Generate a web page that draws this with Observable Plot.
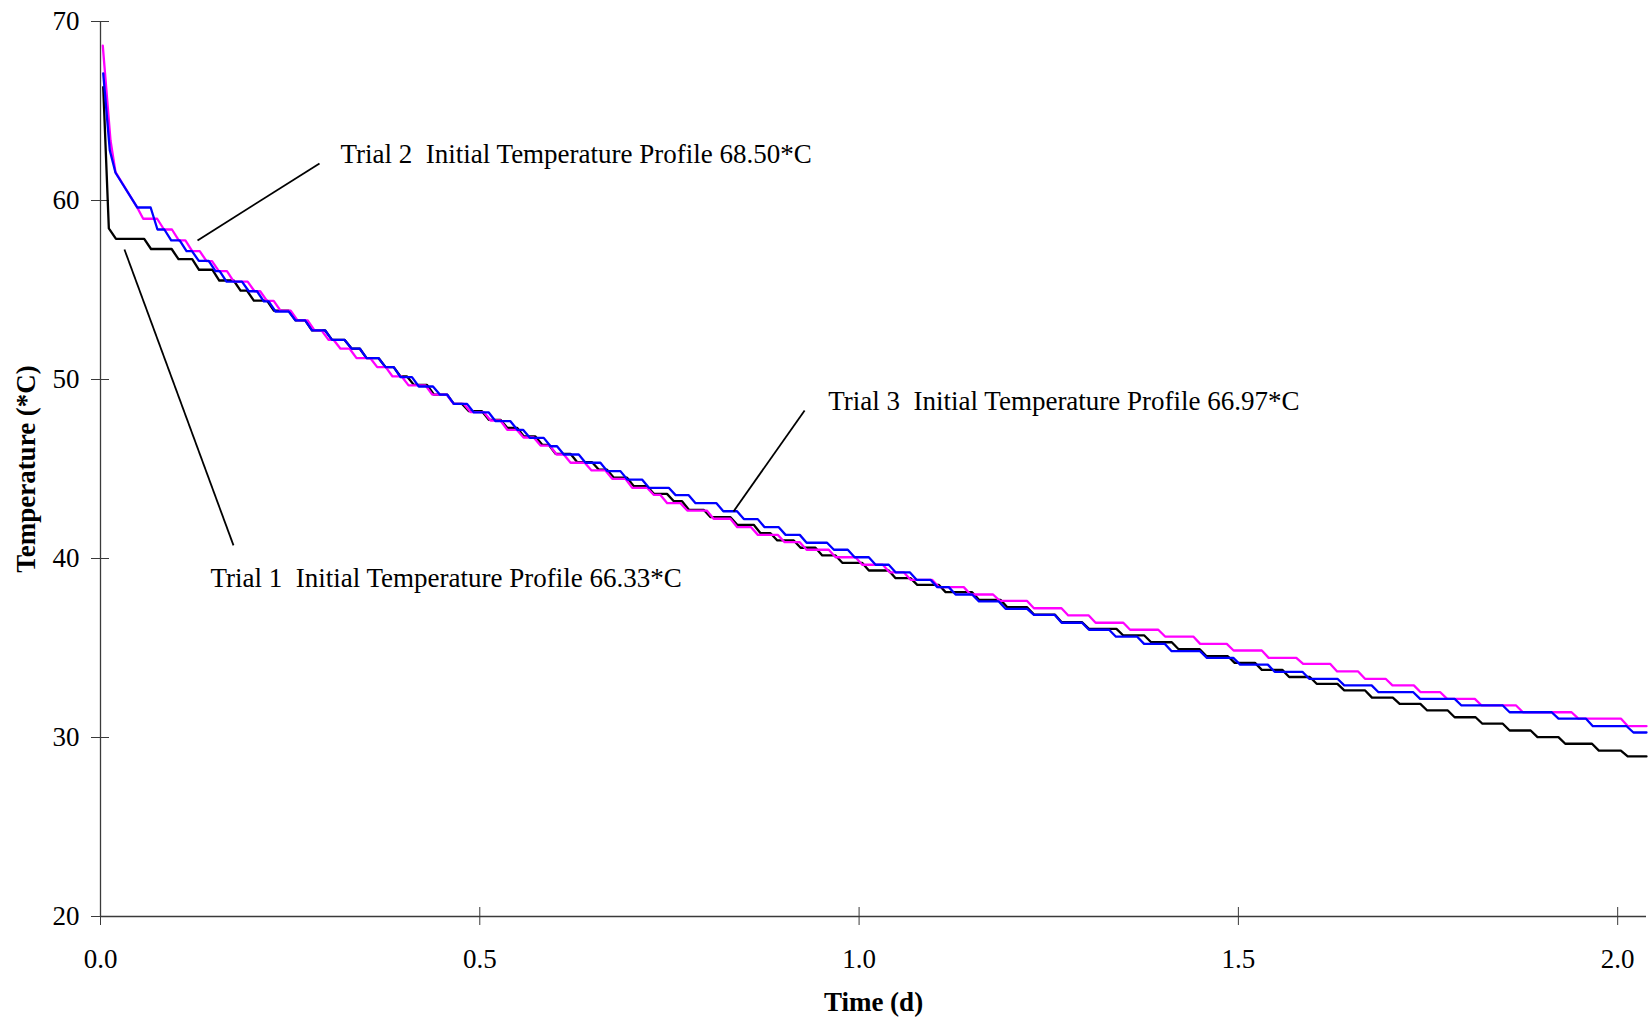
<!DOCTYPE html>
<html>
<head>
<meta charset="utf-8">
<script src="https://cdn.jsdelivr.net/npm/d3@7"></script>
<script src="https://cdn.jsdelivr.net/npm/@observablehq/plot@0.6"></script>
<style>
  html, body { margin: 0; padding: 0; background: #fff; }
  #chart svg text { white-space: pre; }
</style>
</head>
<body>
<div id="chart"></div>
<script>
// ---- Data ----
const yTicks = [20, 30, 40, 50, 60, 70];
const xTicks = [0, 0.5, 1.0, 1.5, 2.0];
const xMax = 2.038;
const riseDays = 0.009; // duration of each drop between two logged plateaus

// Trial 1 (black)
const trial1LeadTime = [0.0036, 0.011];
const trial1LeadTemp = [66.33, 58.44];
const trial1StepTime = [0.0204, 0.0666, 0.1028, 0.1299, 0.1566, 0.1846, 0.2021, 0.2285, 0.2571, 0.2788, 0.3052, 0.3309, 0.3507, 0.3757, 0.3955, 0.4131, 0.4394, 0.4658, 0.4856, 0.5119, 0.5362, 0.5581, 0.5823, 0.5999, 0.6285, 0.6570, 0.6767, 0.7031, 0.7295, 0.7558, 0.7756, 0.8042, 0.8394, 0.8701, 0.8922, 0.9229, 0.9515, 0.9779, 1.0129, 1.0481, 1.0767, 1.1140, 1.1580, 1.1954, 1.2305, 1.2670, 1.3030, 1.3483, 1.3850, 1.4212, 1.4581, 1.4951, 1.5309, 1.5669, 1.6032, 1.6396, 1.6761, 1.7126, 1.7489, 1.7851, 1.8217, 1.8576, 1.8943, 1.9309, 1.9752, 2.0132];
const trial1StepTemp = [57.86, 57.29, 56.72, 56.13, 55.53, 54.97, 54.41, 53.85, 53.30, 52.74, 52.21, 51.73, 51.19, 50.69, 50.17, 49.70, 49.16, 48.64, 48.23, 47.75, 47.30, 46.82, 46.35, 45.85, 45.38, 44.96, 44.51, 44.04, 43.61, 43.20, 42.72, 42.31, 41.88, 41.41, 41.01, 40.60, 40.17, 39.76, 39.33, 38.90, 38.53, 38.12, 37.69, 37.28, 36.87, 36.44, 36.07, 35.70, 35.32, 34.93, 34.54, 34.17, 33.78, 33.38, 33.00, 32.63, 32.23, 31.88, 31.51, 31.13, 30.77, 30.39, 30.02, 29.65, 29.27, 28.94];

// Trial 2 (magenta)
const trial2LeadTime = [0.003, 0.0132, 0.0198, 0.0484];
const trial2LeadTemp = [68.65, 63.35, 61.58, 59.61];
const trial2StepTime = [0.0563, 0.0837, 0.1032, 0.1209, 0.1398, 0.1560, 0.1757, 0.2030, 0.2195, 0.2373, 0.2597, 0.2821, 0.3006, 0.3164, 0.3375, 0.3648, 0.3850, 0.4061, 0.4373, 0.4654, 0.4878, 0.5142, 0.5362, 0.5577, 0.5801, 0.6012, 0.6197, 0.6473, 0.6746, 0.7010, 0.7295, 0.7471, 0.7735, 0.8082, 0.8394, 0.8666, 0.9018, 0.9308, 0.9690, 1.0042, 1.0402, 1.0679, 1.1052, 1.1470, 1.1856, 1.2305, 1.2758, 1.3118, 1.3573, 1.4034, 1.4496, 1.4937, 1.5399, 1.5854, 1.6302, 1.6669, 1.7031, 1.7403, 1.7752, 1.8207, 1.8751, 1.9482, 2.0135];
const trial2StepTemp = [58.98, 58.38, 57.77, 57.17, 56.61, 56.05, 55.47, 54.93, 54.39, 53.85, 53.30, 52.74, 52.21, 51.72, 51.19, 50.69, 50.17, 49.67, 49.16, 48.64, 48.18, 47.71, 47.19, 46.76, 46.31, 45.81, 45.35, 44.92, 44.45, 43.95, 43.55, 43.09, 42.68, 42.22, 41.75, 41.32, 40.91, 40.49, 40.07, 39.65, 39.23, 38.81, 38.40, 37.99, 37.63, 37.22, 36.82, 36.41, 36.02, 35.64, 35.23, 34.86, 34.45, 34.11, 33.69, 33.28, 32.91, 32.53, 32.16, 31.79, 31.41, 31.05, 30.63];

// Trial 3 (blue)
const trial3LeadTime = [0.0036, 0.0123, 0.0198];
const trial3LeadTemp = [67.1, 62.79, 61.55];
const trial3StepTime = [0.0484, 0.0751, 0.0932, 0.1134, 0.1296, 0.1516, 0.1661, 0.1955, 0.2153, 0.2307, 0.2571, 0.2788, 0.3052, 0.3309, 0.3507, 0.3757, 0.3955, 0.4196, 0.4473, 0.4658, 0.4922, 0.5208, 0.5494, 0.5660, 0.5933, 0.6108, 0.6394, 0.6680, 0.6944, 0.7229, 0.7581, 0.7844, 0.8210, 0.8481, 0.8754, 0.9031, 0.9308, 0.9668, 0.9941, 1.0218, 1.0481, 1.0758, 1.1031, 1.1272, 1.1580, 1.1931, 1.2305, 1.2670, 1.3030, 1.3386, 1.3757, 1.4120, 1.4585, 1.5023, 1.5478, 1.5934, 1.6396, 1.6847, 1.7396, 1.7941, 1.8576, 1.9220, 1.9673, 2.0208];
const trial3StepTemp = [59.61, 58.38, 57.77, 57.17, 56.63, 56.05, 55.47, 54.93, 54.36, 53.80, 53.30, 52.74, 52.21, 51.73, 51.19, 50.69, 50.13, 49.61, 49.16, 48.64, 48.16, 47.67, 47.19, 46.74, 46.27, 45.81, 45.35, 44.88, 44.41, 43.95, 43.54, 43.09, 42.64, 42.20, 41.75, 41.32, 40.88, 40.49, 40.07, 39.65, 39.23, 38.81, 38.40, 37.99, 37.60, 37.19, 36.85, 36.41, 36.02, 35.63, 35.23, 34.82, 34.45, 34.07, 33.67, 33.28, 32.91, 32.53, 32.16, 31.79, 31.41, 31.05, 30.63, 30.28];

// Annotations
const noteText = ["Trial 1  Initial Temperature Profile 66.33*C", "Trial 2  Initial Temperature Profile 68.50*C", "Trial 3  Initial Temperature Profile 66.97*C"];
const noteTime = [0.1450, 0.3164, 0.9594];
const noteTemp = [38.41, 62.07, 48.27];
const leaderFromTime = [0.1753, 0.2887, 0.9282];
const leaderFromTemp = [40.73, 62.07, 48.27];
const leaderToTime = [0.0316, 0.1279, 0.8345];
const leaderToTemp = [57.26, 57.77, 42.63];

// ---- Build tables ----
function buildSeries(leadT, leadV, stepT, stepV) {
  const pts = leadT.map((t, i) => ({t, v: leadV[i]}));
  stepT.forEach((t, i) => {
    pts.push({t, v: stepV[i]});
    const end = i < stepT.length - 1 ? Math.max(t, stepT[i + 1] - riseDays) : xMax;
    pts.push({t: end, v: stepV[i]});
  });
  return pts;
}
const s1 = buildSeries(trial1LeadTime, trial1LeadTemp, trial1StepTime, trial1StepTemp);
const s2 = buildSeries(trial2LeadTime, trial2LeadTemp, trial2StepTime, trial2StepTemp);
const s3 = buildSeries(trial3LeadTime, trial3LeadTemp, trial3StepTime, trial3StepTemp);
const notes = noteText.map((text, i) => ({text, t: noteTime[i], v: noteTemp[i]}));
const leaders = noteText.map((_, i) => ({x1: leaderFromTime[i], y1: leaderFromTemp[i], x2: leaderToTime[i], y2: leaderToTemp[i]}));

const axisColor = "#3a3a3a";
const font = "'Liberation Serif', 'Times New Roman', Times, serif";

const chart = Plot.plot({
  width: 1648,
  height: 1021,
  marginTop: 21,
  marginBottom: 105,
  marginLeft: 100,
  marginRight: 2,
  style: {fontFamily: font, fontSize: "27px", color: "#000", background: "#fff"},
  x: {domain: [0, xMax]},
  y: {domain: [20, 70]},
  marks: [
    Plot.ruleX([0], {stroke: axisColor, strokeWidth: 1.3}),
    Plot.ruleY([20], {stroke: axisColor, strokeWidth: 1.3}),
    // crossing tick marks
    Plot.axisX(xTicks, {tickSize: 18, dy: -9, tickFormat: () => "", stroke: axisColor, label: null}),
    Plot.axisY(yTicks, {tickSize: 18, dx: 9, tickFormat: () => "", stroke: axisColor, label: null}),
    // tick labels
    Plot.axisX(xTicks, {tickSize: 0, tickPadding: 32, tickFormat: d3.format(".1f"), fontSize: 27, fill: "#000", label: null}),
    Plot.axisY(yTicks, {tickSize: 0, tickPadding: 21, tickFormat: d3.format("d"), fontSize: 27, fill: "#000", label: null}),
    // axis titles
    Plot.text(["Time (d)"], {frameAnchor: "bottom", dy: 86, textAnchor: "middle", lineAnchor: "middle", fontWeight: "bold", fontSize: 27, fill: "#000"}),
    Plot.text(["Temperature (*C)"], {frameAnchor: "left", dx: -74, textAnchor: "middle", lineAnchor: "middle", rotate: -90, fontWeight: "bold", fontSize: 27, fill: "#000"}),
    // data lines
    Plot.line(s1, {x: "t", y: "v", stroke: "#000000", strokeWidth: 2.3}),
    Plot.line(s2, {x: "t", y: "v", stroke: "#ff00ff", strokeWidth: 2.3}),
    Plot.line(s3, {x: "t", y: "v", stroke: "#0000ff", strokeWidth: 2.3}),
    // annotations
    Plot.link(leaders, {x1: "x1", y1: "y1", x2: "x2", y2: "y2", stroke: "#000", strokeWidth: 1.8}),
    Plot.text(notes, {x: "t", y: "v", text: "text", textAnchor: "start", lineAnchor: "bottom", fontSize: 27, fill: "#000"})
  ]
});
document.getElementById("chart").appendChild(chart);
</script>
</body>
</html>
